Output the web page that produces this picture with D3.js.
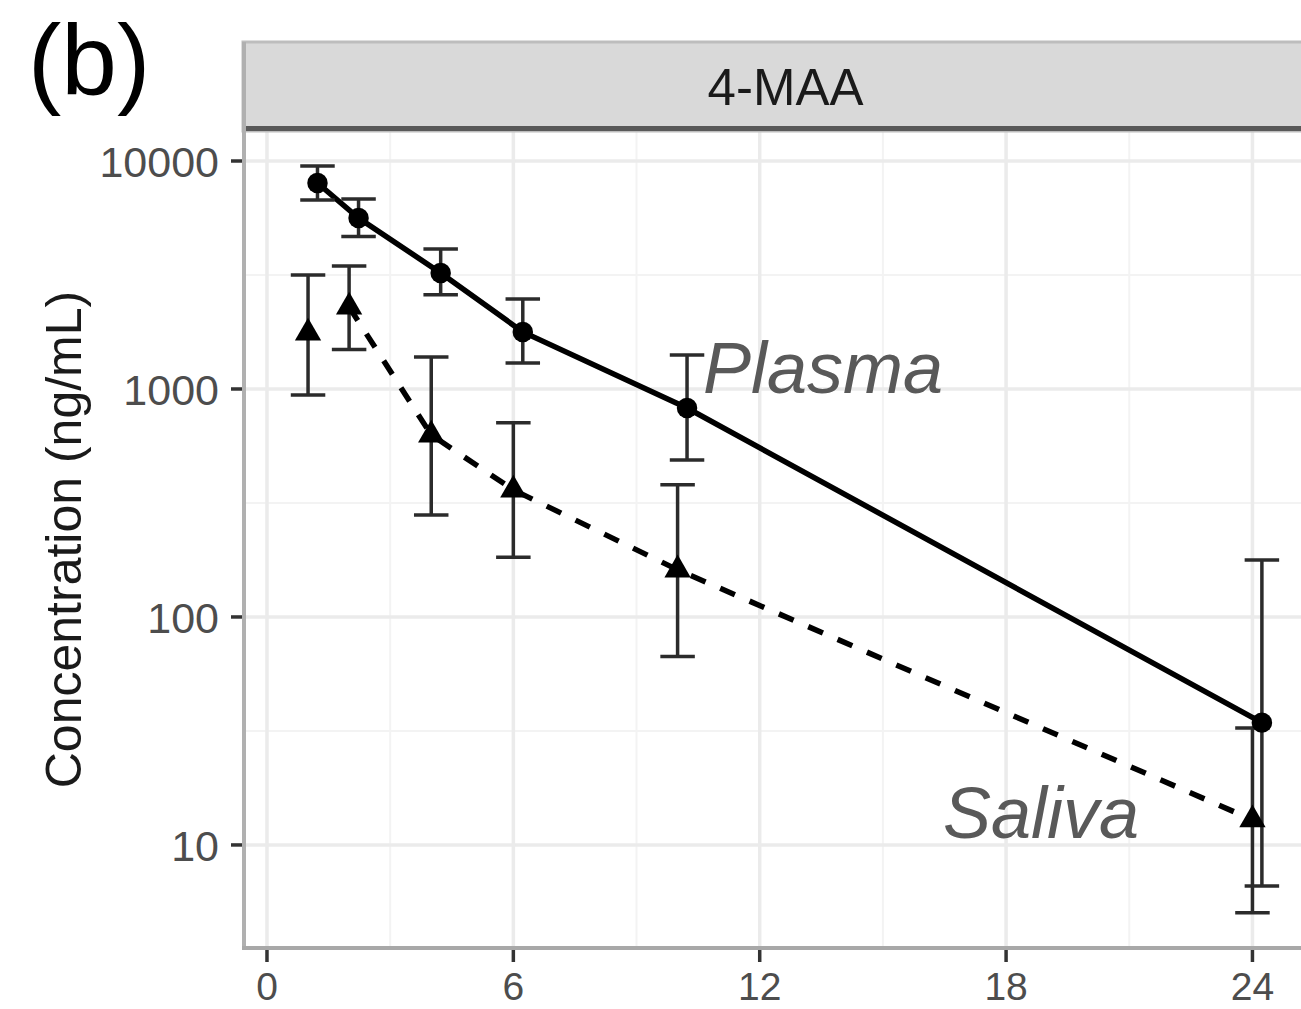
<!DOCTYPE html>
<html>
<head>
<meta charset="utf-8">
<script src="https://cdn.jsdelivr.net/npm/d3@7"></script>
<style>
  html, body { margin: 0; padding: 0; background: #fff; }
  svg { display: block; font-family: "Liberation Sans", Arial, sans-serif; }
</style>
</head>
<body>
<svg id="chart" width="1301" height="1009"></svg>
<script>
// ---- data ----
const panelLabel = "(b)";
const facetTitle = "4-MAA";
const yTitle = "Concentration (ng/mL)";
const times = [1, 2, 4, 6, 10, 24];           // h
const plasmaMean  = [8010, 5620, 3230, 1780, 825, 34.4];
const plasmaUpper = [9510, 6810, 4110, 2480, 1410, 178];
const plasmaLower = [6750, 4670, 2590, 1300, 488, 6.6];
const salivaMean  = [1760, 2290, 629, 361, 161, 12.9];
const salivaUpper = [3160, 3460, 1380, 711, 380, 32.6];
const salivaLower = [940, 1490, 280, 183, 67, 5.04];
const xTicks = [0, 6, 12, 18, 24];
const xMinor = [3, 9, 15, 21];
const yTicks = [10, 100, 1000, 10000];
const yMinor = [31.62, 316.2, 3162];

// ---- layout ----
const svg = d3.select("#chart");
const L = 243, R = 1328, T = 131, B = 948;
const x = d3.scaleLinear().domain([-0.584, 25.84]).range([L, R]);
const y = d3.scaleLog().domain([Math.pow(10, 0.548), Math.pow(10, 4.1316)]).range([B, T]);
const plasmaDodge = 0.23;
const capHalf = 0.42;

// panel background
svg.append("rect").attr("x", L).attr("y", T).attr("width", R - L).attr("height", B - T).attr("fill", "#fff");

// grid
const g = svg.append("g");
g.selectAll(".yminor").data(yMinor).join("line")
  .attr("x1", L).attr("x2", R).attr("y1", d => y(d)).attr("y2", d => y(d))
  .attr("stroke", "#f3f3f3").attr("stroke-width", 2);
g.selectAll(".xminor").data(xMinor).join("line")
  .attr("y1", T).attr("y2", B).attr("x1", d => x(d)).attr("x2", d => x(d))
  .attr("stroke", "#f3f3f3").attr("stroke-width", 2);
g.selectAll(".ymajor").data(yTicks).join("line")
  .attr("x1", L).attr("x2", R).attr("y1", d => y(d)).attr("y2", d => y(d))
  .attr("stroke", "#ebebeb").attr("stroke-width", 3.5);
g.selectAll(".xmajor").data(xTicks).join("line")
  .attr("y1", T).attr("y2", B).attr("x1", d => x(d)).attr("x2", d => x(d))
  .attr("stroke", "#ebebeb").attr("stroke-width", 3.5);

// strip
svg.append("rect").attr("x", L).attr("y", 42).attr("width", R - L + 10).attr("height", 89)
  .attr("fill", "#d9d9d9").attr("stroke", "#bdbdbd").attr("stroke-width", 3);
svg.append("line").attr("x1", L).attr("x2", R + 10).attr("y1", 128.5).attr("y2", 128.5)
  .attr("stroke", "#595959").attr("stroke-width", 5);
svg.append("text").attr("x", (L + R) / 2).attr("y", 105).attr("text-anchor", "middle")
  .attr("font-size", 51).attr("fill", "#1a1a1a").text(facetTitle);

// axis lines
svg.append("line").attr("x1", L + 1).attr("x2", L + 1).attr("y1", 42).attr("y2", B + 1)
  .attr("stroke", "#b0b0b0").attr("stroke-width", 4);
svg.append("line").attr("x1", L - 1).attr("x2", R).attr("y1", B).attr("y2", B)
  .attr("stroke", "#a8a8a8").attr("stroke-width", 4);

// x axis ticks + labels
const xa = svg.append("g");
xa.selectAll("line").data(xTicks).join("line")
  .attr("x1", d => x(d)).attr("x2", d => x(d)).attr("y1", B + 2).attr("y2", B + 14)
  .attr("stroke", "#333").attr("stroke-width", 3.5);
xa.selectAll("text").data(xTicks).join("text")
  .attr("x", d => x(d)).attr("y", 1000).attr("text-anchor", "middle")
  .attr("font-size", 39).attr("fill", "#4d4d4d").text(d => d);

// y axis ticks + labels
const ya = svg.append("g");
ya.selectAll("line").data(yTicks).join("line")
  .attr("x1", 231).attr("x2", L - 1).attr("y1", d => y(d)).attr("y2", d => y(d))
  .attr("stroke", "#333").attr("stroke-width", 3.5);
ya.selectAll("text").data(yTicks).join("text")
  .attr("x", 219).attr("y", d => y(d) + 16).attr("text-anchor", "end")
  .attr("font-size", 43).attr("fill", "#4d4d4d").text(d => d);

// y title
svg.append("text").attr("transform", `translate(81,${(T + B) / 2}) rotate(-90)`)
  .attr("text-anchor", "middle").attr("font-size", 50).attr("fill", "#1a1a1a").text(yTitle);

// panel label
svg.append("text").attr("x", 28).attr("y", 95).attr("font-size", 100).attr("fill", "#000").text(panelLabel);

// data
const plasma = times.map((t, i) => ({ t: t + plasmaDodge, m: plasmaMean[i], lo: plasmaLower[i], hi: plasmaUpper[i] }));
const saliva = times.map((t, i) => ({ t: t, m: salivaMean[i], lo: salivaLower[i], hi: salivaUpper[i] }));

const line = d3.line().x(d => x(d.t)).y(d => y(d.m));

// lines
svg.append("path").datum(plasma).attr("d", line).attr("fill", "none")
  .attr("stroke", "#000").attr("stroke-width", 5.5);
svg.append("path").datum(saliva.slice(1)).attr("d", line).attr("fill", "none")
  .attr("stroke", "#000").attr("stroke-width", 5.5).attr("stroke-dasharray", "16,16");

// error bars
function errorbars(data, cls) {
  const eg = svg.append("g").attr("stroke", "#2b2b2b").attr("stroke-width", 3.5).attr("fill", "none");
  eg.selectAll("." + cls + "v").data(data).join("line")
    .attr("x1", d => x(d.t)).attr("x2", d => x(d.t)).attr("y1", d => y(d.lo)).attr("y2", d => y(d.hi));
  eg.selectAll("." + cls + "h").data(data).join("line")
    .attr("x1", d => x(d.t - capHalf)).attr("x2", d => x(d.t + capHalf)).attr("y1", d => y(d.hi)).attr("y2", d => y(d.hi));
  eg.selectAll("." + cls + "l").data(data).join("line")
    .attr("x1", d => x(d.t - capHalf)).attr("x2", d => x(d.t + capHalf)).attr("y1", d => y(d.lo)).attr("y2", d => y(d.lo));
}
errorbars(saliva, "s");
errorbars(plasma, "p");

// points
svg.append("g").selectAll("path").data(plasma).join("path")
  .attr("transform", d => `translate(${x(d.t)},${y(d.m)})`)
  .attr("d", d3.symbol(d3.symbolCircle, 330)).attr("fill", "#000");
svg.append("g").selectAll("path").data(saliva).join("path")
  .attr("transform", d => `translate(${x(d.t)},${y(d.m)})`)
  .attr("d", d3.symbol(d3.symbolTriangle, 300)).attr("fill", "#000");

// annotations
svg.append("text").attr("x", 703).attr("y", 393).attr("font-size", 72).attr("font-style", "italic")
  .attr("fill", "#595959").text("Plasma");
svg.append("text").attr("x", 943).attr("y", 838).attr("font-size", 72).attr("font-style", "italic")
  .attr("fill", "#595959").text("Saliva");
</script>
</body>
</html>
